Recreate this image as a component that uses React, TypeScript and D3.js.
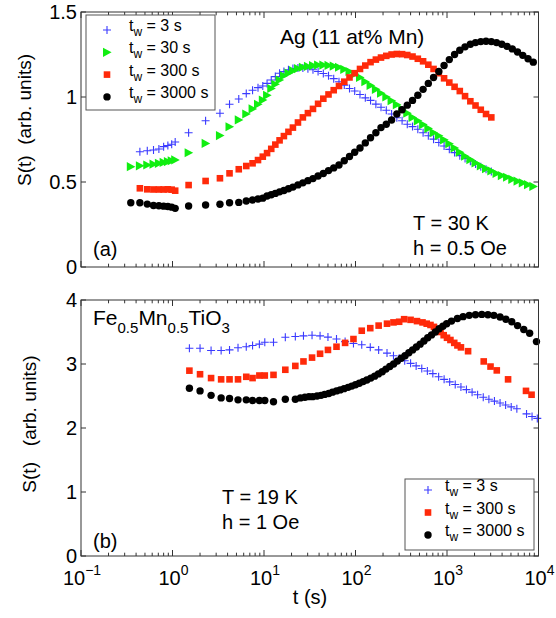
import React from "react";
import * as d3 from "d3";

// ---------- DATA ----------
// Panel (a) Ag(11 at% Mn): shared time grid (s)
const T_TOP = [0.35, 0.44, 0.53, 0.62, 0.71, 0.80, 0.89, 0.98, 1.07, 1.5, 2.3, 3.3, 4.2, 5.3, 6.4, 7.5, 8.6, 9.7, 10.8, 12, 13.3, 14.8, 16.5, 18.5, 20.7, 23.5, 26.6, 30.2, 34.3, 39, 44.5, 50.7, 57.8, 66, 75.4, 86, 98, 112, 128, 146, 167, 190, 217, 248, 283, 323, 368, 420, 480, 548, 625, 713, 814, 929, 1060, 1210, 1380, 1575, 1800, 2050, 2340, 2670, 3050, 3480, 3970, 4530, 5170, 5900, 6730, 7680, 8770];
const S_TOP_TW3 = [null, 0.678, 0.684, 0.688, 0.694, 0.708, 0.715, 0.722, 0.735, 0.79, 0.86, 0.904, 0.957, 0.988, 1.02, 1.04, 1.055, 1.065, 1.08, 1.10, 1.12, 1.14, 1.15, 1.16, 1.168, 1.17, 1.17, 1.166, 1.16, 1.15, 1.138, 1.125, 1.108, 1.09, 1.07, 1.05, 1.035, 1.015, 0.995, 0.98, 0.958, 0.94, 0.922, 0.90, 0.878, 0.86, 0.84, 0.826, 0.81, 0.79, 0.772, 0.752, 0.732, 0.712, 0.692, 0.673, 0.655, 0.638, 0.622, 0.606, 0.59, 0.575, 0.562, null, null, null, null, null, null, null, null];
const S_TOP_TW30 = [0.59, 0.595, 0.60, 0.605, 0.61, 0.615, 0.62, 0.625, 0.63, 0.672, 0.727, 0.773, 0.825, 0.865, 0.90, 0.93, 0.957, 0.982, 1.01, 1.05, 1.075, 1.10, 1.125, 1.14, 1.155, 1.167, 1.175, 1.18, 1.185, 1.188, 1.188, 1.186, 1.182, 1.175, 1.163, 1.15, 1.135, 1.115, 1.09, 1.068, 1.045, 1.022, 1.0, 0.978, 0.955, 0.93, 0.905, 0.88, 0.86, 0.838, 0.815, 0.79, 0.772, 0.748, 0.725, 0.70, 0.675, 0.652, 0.632, 0.612, 0.595, 0.578, 0.565, 0.55, 0.538, 0.528, 0.516, 0.505, 0.495, 0.484, 0.474];
const S_TOP_TW300 = [null, 0.463, 0.457, 0.456, 0.456, 0.456, 0.457, 0.455, 0.449, 0.482, 0.506, 0.522, 0.551, 0.575, 0.594, 0.61, 0.629, 0.649, 0.67, 0.695, 0.72, 0.745, 0.77, 0.795, 0.82, 0.85, 0.88, 0.905, 0.93, 0.96, 0.99, 1.015, 1.04, 1.065, 1.09, 1.115, 1.14, 1.165, 1.185, 1.205, 1.22, 1.232, 1.242, 1.25, 1.253, 1.252, 1.247, 1.238, 1.225, 1.21, 1.19, 1.165, 1.14, 1.11, 1.085, 1.06, 1.035, 1.005, 0.975, 0.95, 0.925, 0.90, 0.88, null, null, null, null, null, null, null, null];
const S_TOP_TW3000 = [0.378, 0.378, 0.37, 0.362, 0.36, 0.358, 0.356, 0.352, 0.345, 0.359, 0.365, 0.369, 0.378, 0.38, 0.388, 0.394, 0.40, 0.405, 0.418, 0.425, 0.433, 0.442, 0.45, 0.46, 0.47, 0.483, 0.495, 0.508, 0.52, 0.535, 0.55, 0.567, 0.583, 0.60, 0.625, 0.65, 0.675, 0.70, 0.73, 0.76, 0.79, 0.82, 0.84, 0.865, 0.90, 0.925, 0.952, 0.98, 1.01, 1.045, 1.08, 1.115, 1.15, 1.185, 1.22, 1.25, 1.275, 1.295, 1.31, 1.32, 1.326, 1.328, 1.326, 1.32, 1.31, 1.298, 1.283, 1.265, 1.245, 1.225, 1.205];

// Panel (b) Fe0.5Mn0.5TiO3
const T_BOT_TW3 = [1.53, 2.0, 2.64, 3.4, 4.2, 5.2, 6.4, 7.5, 8.9, 10.2, 12.7, 17.1, 22, 27, 33.5, 41, 50, 62, 77, 95, 117, 145, 179, 221, 260, 300, 345, 400, 460, 530, 610, 700, 810, 930, 1070, 1230, 1420, 1630, 1880, 2160, 2490, 2870, 3300, 3800, 4370, 5030, 5800, 7400, 8500, 9700];
const S_BOT_TW3 = [3.245, 3.245, 3.21, 3.21, 3.22, 3.255, 3.27, 3.29, 3.31, 3.34, 3.34, 3.417, 3.43, 3.44, 3.45, 3.44, 3.42, 3.39, 3.35, 3.32, 3.30, 3.26, 3.22, 3.17, 3.13, 3.09, 3.05, 3.01, 2.97, 2.93, 2.89, 2.85, 2.80, 2.76, 2.72, 2.68, 2.64, 2.60, 2.56, 2.52, 2.48, 2.45, 2.42, 2.39, 2.36, 2.33, 2.30, 2.22, 2.18, 2.15];
const T_BOT_TW300 = [1.53, 2.0, 2.64, 3.4, 4.2, 5.2, 6.4, 7.5, 8.9, 10.2, 12.7, 17.1, 22, 27, 33.5, 41, 50, 62, 77, 95, 117, 145, 179, 221, 260, 300, 340, 400, 470, 540, 600, 660, 720, 780, 850, 920, 1000, 1090, 1200, 1300, 1420, 1700, 2520, 2990, 3500, 4650, 7300, 8400];
const S_BOT_TW300 = [2.896, 2.84, 2.78, 2.76, 2.76, 2.76, 2.8, 2.78, 2.82, 2.82, 2.83, 2.91, 2.97, 3.04, 3.1, 3.16, 3.22, 3.27, 3.33, 3.39, 3.52, 3.56, 3.6, 3.63, 3.65, 3.66, 3.70, 3.69, 3.67, 3.65, 3.63, 3.61, 3.58, 3.54, 3.5, 3.45, 3.41, 3.375, 3.33, 3.29, 3.26, 3.2, 3.04, 2.96, 2.9, 2.76, 2.58, 2.52];
const T_BOT_TW3000 = [1.53, 2.0, 2.64, 3.4, 4.2, 5.2, 6.4, 7.5, 8.9, 10.2, 12.7, 17.1, 22, 25, 28, 31, 34, 38, 42, 46, 51, 56, 62, 68, 75, 83, 91, 100, 110, 121, 133, 147, 162, 178, 196, 215, 237, 261, 287, 316, 348, 383, 421, 463, 509, 560, 616, 678, 746, 820, 902, 992, 1120, 1300, 1500, 1750, 2050, 2400, 2800, 3250, 3800, 4400, 5100, 5900, 6900, 8000, 9500];
const S_BOT_TW3000 = [2.62, 2.58, 2.51, 2.47, 2.46, 2.44, 2.44, 2.43, 2.43, 2.43, 2.41, 2.45, 2.45, 2.47, 2.48, 2.49, 2.49, 2.50, 2.51, 2.525, 2.54, 2.56, 2.58, 2.595, 2.615, 2.635, 2.655, 2.675, 2.70, 2.725, 2.75, 2.78, 2.81, 2.845, 2.88, 2.92, 2.96, 3.0, 3.045, 3.09, 3.13, 3.175, 3.22, 3.265, 3.31, 3.36, 3.41, 3.455, 3.50, 3.55, 3.59, 3.63, 3.67, 3.71, 3.74, 3.76, 3.77, 3.775, 3.77, 3.76, 3.735, 3.70, 3.66, 3.60, 3.54, 3.48, 3.35];

const X_EXPONENTS = [-1, 0, 1, 2, 3, 4];
const Y_TICKS_TOP = [0, 0.5, 1, 1.5];
const Y_TICK_LABELS_TOP = ["0", "0.5", "1", "1.5"];
const Y_TICKS_BOT = [0, 1, 2, 3, 4];
const Y_TICK_LABELS_BOT = ["0", "1", "2", "3", "4"];
const LEGEND_TOP = ["3 s", "30 s", "300 s", "3000 s"];
const LEGEND_BOT = ["3 s", "300 s", "3000 s"];

// ---------- STYLE ----------
const FONT = "'Liberation Sans', Arial, Helvetica, sans-serif";
const BLUE = "#3a3aff";
const GREEN = "#11ee11";
const RED = "#ff2a0a";
const BLACK = "#000000";
const FRAME = "#333333";

type MarkerType = "plus" | "tri" | "square" | "circle";

function Marker({ type, x, y, color }: { type: MarkerType; x: number; y: number; color: string }) {
  if (type === "plus") {
    const a = 4;
    return (
      <path d={`M${x - a},${y}H${x + a}M${x},${y - a}V${y + a}`} stroke={color} strokeWidth={1.1} fill="none" />
    );
  }
  if (type === "tri") {
    return <path d={`M${x - 4},${y - 4.6}L${x + 4.6},${y}L${x - 4},${y + 4.6}Z`} fill={color} />;
  }
  if (type === "square") {
    const h = 3.3;
    return <rect x={x - h} y={y - h} width={2 * h} height={2 * h} fill={color} />;
  }
  return <circle cx={x} cy={y} r={3.7} fill={color} />;
}

type Series = { t: number[]; s: (number | null)[]; type: MarkerType; color: string };

const X_LEFT = 81;
const X_RIGHT = 538.5;

function Panel({
  top, bottom, yMax, yTicks, yLabels, series, showX,
}: {
  top: number; bottom: number; yMax: number; yTicks: number[]; yLabels: string[];
  series: Series[]; showX: boolean;
}) {
  const x = d3.scaleLog().domain([0.1, 1e4]).range([X_LEFT, X_RIGHT]);
  const y = d3.scaleLinear().domain([0, yMax]).range([bottom, top]);
  const minor: number[] = [];
  X_EXPONENTS.slice(0, -1).forEach((e) => {
    for (let k = 2; k <= 9; k++) minor.push(k * Math.pow(10, e));
  });
  const majors = X_EXPONENTS.map((e) => Math.pow(10, e));
  return (
    <g>
      {series.map((se, i) => (
        <g key={i}>
          {se.t.map((tv, j) => {
            const v = se.s[j];
            if (v === null || v === undefined) return null;
            return <Marker key={j} type={se.type} x={x(tv)} y={y(v)} color={se.color} />;
          })}
        </g>
      ))}
      <rect x={X_LEFT} y={top} width={X_RIGHT - X_LEFT} height={bottom - top} fill="none" stroke={FRAME} strokeWidth={1} />
      {majors.map((m, i) => (
        <g key={"M" + i} stroke={FRAME} strokeWidth={1}>
          <line x1={x(m)} x2={x(m)} y1={bottom} y2={bottom - 6} />
          <line x1={x(m)} x2={x(m)} y1={top} y2={top + 6} />
        </g>
      ))}
      {minor.map((m, i) => (
        <g key={"m" + i} stroke={FRAME} strokeWidth={1}>
          <line x1={x(m)} x2={x(m)} y1={bottom} y2={bottom - 3.3} />
          <line x1={x(m)} x2={x(m)} y1={top} y2={top + 3.3} />
        </g>
      ))}
      {yTicks.map((v, i) => (
        <g key={"y" + i}>
          <line x1={X_LEFT} x2={X_LEFT + 5} y1={y(v)} y2={y(v)} stroke={FRAME} />
          <line x1={X_RIGHT} x2={X_RIGHT - 5} y1={y(v)} y2={y(v)} stroke={FRAME} />
          <text x={X_LEFT - 4} y={y(v) + 7} textAnchor="end" fontSize={20} fontFamily={FONT}>
            {yLabels[i]}
          </text>
        </g>
      ))}
      {showX &&
        X_EXPONENTS.map((e, i) => (
          <text key={"xl" + i} x={x(Math.pow(10, e)) + 1} y={585} textAnchor="middle" fontSize={20} fontFamily={FONT}>
            10
            <tspan dy={-10} fontSize={14}>{e < 0 ? "\u2212" + Math.abs(e) : String(e)}</tspan>
          </text>
        ))}
    </g>
  );
}

function LegendRow({ x, y, type, color, label, textX }: { x: number; y: number; type: MarkerType; color: string; label: string; textX: number }) {
  return (
    <g>
      <Marker type={type} x={x} y={y} color={color} />
      <text x={textX} y={y + 1} fontSize={16} fontFamily={FONT}>
        t<tspan dy={5} fontSize={12}>w</tspan>
        <tspan dy={-5} fontSize={16}>{" = " + label}</tspan>
      </text>
    </g>
  );
}

export default function App() {
  const topSeries: Series[] = [
    { t: T_TOP, s: S_TOP_TW3, type: "plus", color: BLUE },
    { t: T_TOP, s: S_TOP_TW30, type: "tri", color: GREEN },
    { t: T_TOP, s: S_TOP_TW300, type: "square", color: RED },
    { t: T_TOP, s: S_TOP_TW3000, type: "circle", color: BLACK },
  ];
  const botSeries: Series[] = [
    { t: T_BOT_TW3, s: S_BOT_TW3, type: "plus", color: BLUE },
    { t: T_BOT_TW300, s: S_BOT_TW300, type: "square", color: RED },
    { t: T_BOT_TW3000, s: S_BOT_TW3000, type: "circle", color: BLACK },
  ];
  const topTypes: MarkerType[] = ["plus", "tri", "square", "circle"];
  const topColors = [BLUE, GREEN, RED, BLACK];
  const botTypes: MarkerType[] = ["plus", "square", "circle"];
  const botColors = [BLUE, RED, BLACK];

  return (
    <svg width={556} height={618} style={{ position: "absolute", left: 0, top: 0, background: "#fff" }} fontFamily={FONT}>
      <rect x={0} y={0} width={556} height={618} fill="#fff" />
      <Panel top={12} bottom={267} yMax={1.5} yTicks={Y_TICKS_TOP} yLabels={Y_TICK_LABELS_TOP} series={topSeries} showX={false} />
      <Panel top={300} bottom={556} yMax={4} yTicks={Y_TICKS_BOT} yLabels={Y_TICK_LABELS_BOT} series={botSeries} showX={true} />

      {/* top legend */}
      <rect x={86} y={15} width={129} height={95} fill="#fff" stroke="#555" strokeWidth={1} />
      {LEGEND_TOP.map((l, i) => (
        <LegendRow key={i} x={107} y={30 + i * 22.3} type={topTypes[i]} color={topColors[i]} label={l} textX={129} />
      ))}
      {/* bottom legend */}
      <rect x={405} y={479} width={129} height={71} fill="#fff" stroke="#555" strokeWidth={1} />
      {LEGEND_BOT.map((l, i) => (
        <LegendRow key={i} x={428} y={490 + i * 22.5} type={botTypes[i]} color={botColors[i]} label={l} textX={445} />
      ))}

      {/* annotations */}
      <text x={280} y={44} fontSize={21}>Ag (11 at% Mn)</text>
      <text x={413} y={230} fontSize={20}>T = 30 K</text>
      <text x={413} y={255} fontSize={20}>h = 0.5 Oe</text>
      <text x={93} y={256} fontSize={20}>(a)</text>

      <text x={93} y={325} fontSize={21}>
        Fe<tspan dy={8} fontSize={15}>0.5</tspan>
        <tspan dy={-8}>Mn</tspan>
        <tspan dy={8} fontSize={15}>0.5</tspan>
        <tspan dy={-8}>TiO</tspan>
        <tspan dy={8} fontSize={15}>3</tspan>
      </text>
      <text x={222} y={504} fontSize={20}>T = 19 K</text>
      <text x={222} y={529} fontSize={20}>h = 1 Oe</text>
      <text x={93} y={548} fontSize={20}>(b)</text>

      {/* axis labels */}
      <text x={310} y={604} textAnchor="middle" fontSize={20}>t (s)</text>
      <text transform="translate(31,120) rotate(-90)" textAnchor="middle" fontSize={19} style={{ whiteSpace: "pre" }}>
        {"S(t)  (arb. units)"}
      </text>
      <text transform="translate(36,424) rotate(-90)" textAnchor="middle" fontSize={19} style={{ whiteSpace: "pre" }}>
        {"S(t)   (arb. units)"}
      </text>
    </svg>
  );
}
